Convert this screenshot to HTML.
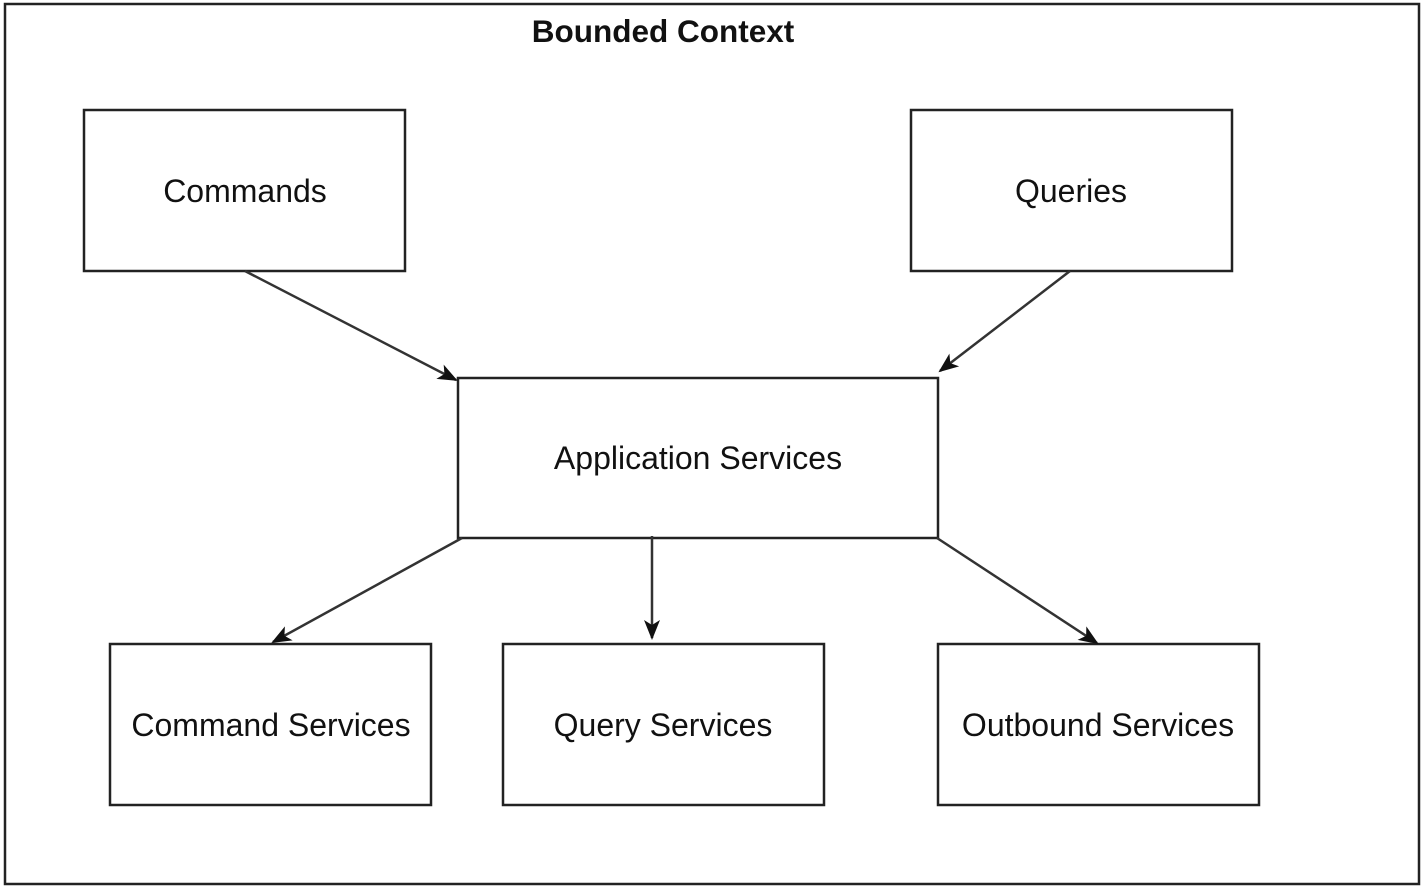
<!DOCTYPE html>
<html><head><meta charset="utf-8"><style>
body{margin:0;background:#fff;}
svg{display:block;}
text{font-family:"Liberation Sans",sans-serif;fill:#111;}
</style></head><body>
<svg width="1423" height="889" viewBox="0 0 1423 889">
<rect x="5" y="4" width="1414" height="880" fill="#fff" stroke="#222" stroke-width="2.5"/>
<text x="663" y="42" font-size="31.5" font-weight="bold" text-anchor="middle">Bounded Context</text>
<g fill="#fff" stroke="#222" stroke-width="2.5">
<rect x="84" y="110" width="321" height="161"/>
<rect x="911" y="110" width="321" height="161"/>
<rect x="458" y="378" width="480" height="160"/>
<rect x="110" y="644" width="321" height="161"/>
<rect x="503" y="644" width="321" height="161"/>
<rect x="938" y="644" width="321" height="161"/>
</g>
<g font-size="32" text-anchor="middle">
<text x="245" y="202">Commands</text>
<text x="1071" y="202">Queries</text>
<text x="698" y="469">Application Services</text>
<text x="271" y="736">Command Services</text>
<text x="663" y="736">Query Services</text>
<text x="1098" y="736">Outbound Services</text>
</g>
<defs>
<marker id="b" markerWidth="20" markerHeight="20" refX="18" refY="10" orient="auto" markerUnits="userSpaceOnUse" viewBox="0 0 20 20"><path d="M0,2 L20,10 L0,18 L5,10 Z" fill="#111"/></marker></defs>
<g stroke="#333" stroke-width="2.5" fill="none" marker-end="url(#b)">
<line x1="245" y1="271" x2="456" y2="380"/>
<line x1="1070" y1="271" x2="940" y2="371"/>
<line x1="462" y1="538" x2="273" y2="642"/>
<line x1="652" y1="536" x2="652" y2="638"/>
<line x1="937" y1="538" x2="1097" y2="643"/>
</g>
</svg>
</body></html>
